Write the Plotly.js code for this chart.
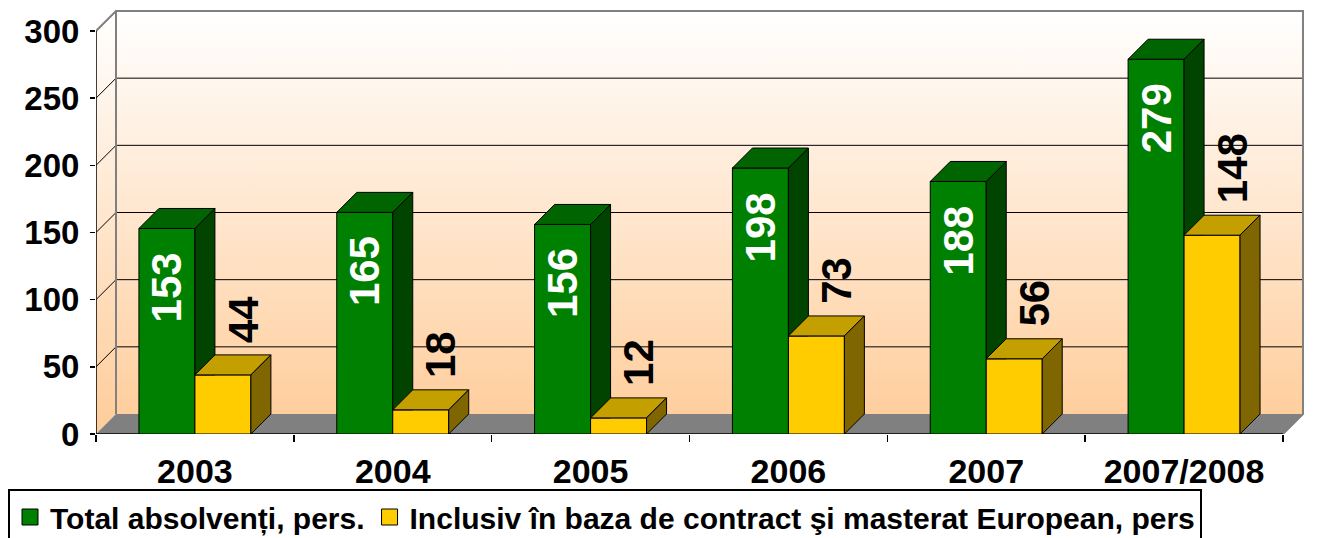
<!DOCTYPE html>
<html>
<head>
<meta charset="utf-8">
<script src="https://cdn.plot.ly/plotly-3.0.1.min.js"></script>
<style>html,body{margin:0;padding:0;background:#fff;}#chart{width:1318px;height:538px;}</style>
</head>
<body>
<div id="chart"></div>
<script>
// ---- data ----
const categories = ['2003', '2004', '2005', '2006', '2007', '2007/2008'];
const totalAbsolventi = [153, 165, 156, 198, 188, 279];
const contractMasterat = [44, 18, 12, 73, 56, 148];
const seriesNames = ['Total absolvenți, pers.', 'Inclusiv în baza de contract şi masterat European, pers'];
const yTickValues = [0, 50, 100, 150, 200, 250, 300];

// ---- geometry / style ----
const FIG_W = 1318, FIG_H = 538;
const L = 96, RIGHT = 1306, TOP = 9, BOTTOM = 434;
const PX_PER_CAT = 197.83, PX_PER_UNIT = 1.3433, DEPTH_PX = 20;
const dxu = DEPTH_PX / PX_PER_CAT, dyu = DEPTH_PX / PX_PER_UNIT;
const xr = [-0.5, -0.5 + (RIGHT - L) / PX_PER_CAT];
const yr = [0, (BOTTOM - TOP) / PX_PER_UNIT];
const BAR_W = 0.283;
const yMax = yTickValues[yTickValues.length - 1];
const nCat = categories.length;
const xLeft = -0.5, xRight = nCat - 0.5;
const FONT = 'Liberation Sans, Arial, Helvetica, sans-serif';

const GREEN = '#008000', GREEN_TOP = '#006400', GREEN_SIDE = '#004400';
const YELLOW = '#FFCC00', YELLOW_TOP = '#C49F00', YELLOW_SIDE = '#806600';
const PEACH = '#FFCC99';

function polys(list) {
  const x = [], y = [];
  list.forEach((p, k) => {
    if (k) { x.push(null); y.push(null); }
    p.forEach(pt => { x.push(pt[0]); y.push(pt[1]); });
    x.push(p[0][0]); y.push(p[0][1]);
  });
  return {x, y};
}

const idx = categories.map((_, i) => i);
const traces = [];

// ---- walls & floor (subplot 1) ----
const grad = {type: 'vertical', start: 0, stop: yMax + dyu, colorscale: [[0, PEACH], [1, '#FFFFFF']]};
const backWall = polys([[[xLeft + dxu, dyu], [xRight + dxu, dyu], [xRight + dxu, yMax + dyu], [xLeft + dxu, yMax + dyu]]]);
traces.push({type: 'scatter', mode: 'none', x: backWall.x, y: backWall.y, fill: 'toself', fillgradient: grad,
  xaxis: 'x', yaxis: 'y', showlegend: false, hoverinfo: 'skip'});
const sideWall = polys([[[xLeft, 0], [xLeft + dxu, dyu], [xLeft + dxu, yMax + dyu], [xLeft, yMax]]]);
traces.push({type: 'scatter', mode: 'none', x: sideWall.x, y: sideWall.y, fill: 'toself', fillgradient: grad,
  xaxis: 'x', yaxis: 'y', showlegend: false, hoverinfo: 'skip'});
const floor = polys([[[xLeft, 0], [xRight, 0], [xRight + dxu, dyu], [xLeft + dxu, dyu]]]);
traces.push({type: 'scatter', mode: 'none', x: floor.x, y: floor.y, fill: 'toself', fillcolor: '#808080',
  xaxis: 'x', yaxis: 'y', showlegend: false, hoverinfo: 'skip'});

// gridlines on side + back wall
const gx = [], gy = [];
yTickValues.filter(v => v > 0 && v < yMax).forEach(v => {
  gx.push(xLeft, xLeft + dxu, xRight + dxu, null);
  gy.push(v, v + dyu, v + dyu, null);
});
traces.push({type: 'scatter', mode: 'lines', x: gx, y: gy, line: {color: '#000', width: 1},
  xaxis: 'x', yaxis: 'y', showlegend: false, hoverinfo: 'skip'});
// gray borders of the walls
traces.push({type: 'scatter', mode: 'lines',
  x: [xLeft, xLeft + dxu, xRight + dxu, xRight + dxu, xRight, null, xLeft + dxu, xLeft + dxu],
  y: [yMax, yMax + dyu, yMax + dyu, dyu, 0, null, dyu, yMax + dyu],
  line: {color: '#808080', width: 2}, xaxis: 'x', yaxis: 'y', showlegend: false, hoverinfo: 'skip'});
// front axis lines
traces.push({type: 'scatter', mode: 'lines', x: [xLeft, xLeft, xRight], y: [yMax, 0, 0],
  line: {color: '#000', width: 1.5}, xaxis: 'x', yaxis: 'y', showlegend: false, hoverinfo: 'skip'});

// ---- bars (subplot 2) ----
traces.push({type: 'bar', name: seriesNames[0], x: idx, y: totalAbsolventi, width: BAR_W, offset: -BAR_W,
  marker: {color: GREEN, line: {color: '#000', width: 1}}, xaxis: 'x2', yaxis: 'y2', hoverinfo: 'skip',
  showlegend: false, legendgroup: 'g'});
traces.push({type: 'bar', name: seriesNames[1], x: idx, y: contractMasterat, width: BAR_W, offset: 0,
  marker: {color: YELLOW, line: {color: '#000', width: 1}}, xaxis: 'x2', yaxis: 'y2', hoverinfo: 'skip',
  showlegend: false, legendgroup: 'y'});

// 3D faces
const gSide = polys(idx.map(i => {
  const x1 = i, vg = totalAbsolventi[i], vy = contractMasterat[i];
  return [[x1, vy], [x1, vg], [x1 + dxu, vg + dyu], [x1 + dxu, vy]];
}));
const gTop = polys(idx.map(i => {
  const x0 = i - BAR_W, x1 = i, v = totalAbsolventi[i];
  return [[x0, v], [x1, v], [x1 + dxu, v + dyu], [x0 + dxu, v + dyu]];
}));
const yTop = polys(idx.map(i => {
  const x0 = i, x1 = i + BAR_W, v = contractMasterat[i];
  return [[x0, v], [x1, v], [x1 + dxu, v + dyu], [x0 + dxu, v + dyu]];
}));
const ySide = polys(idx.map(i => {
  const x1 = i + BAR_W, v = contractMasterat[i];
  return [[x1, 0], [x1, v], [x1 + dxu, v + dyu], [x1 + dxu, dyu]];
}));
[[gSide, GREEN_SIDE], [gTop, GREEN_TOP], [yTop, YELLOW_TOP], [ySide, YELLOW_SIDE]].forEach(([p, c]) => {
  traces.push({type: 'scatter', mode: 'lines', x: p.x, y: p.y, fill: 'toself', fillcolor: c,
    line: {color: '#000', width: 1}, xaxis: 'x2', yaxis: 'y2', showlegend: false, hoverinfo: 'skip'});
});

// legend entries (square swatches for each series)
[[seriesNames[0], GREEN, 'g'], [seriesNames[1], YELLOW, 'y']].forEach(([n, c, g]) => {
  traces.push({type: 'scatter', mode: 'markers', name: n, x: [null], y: [null], legendgroup: g,
    marker: {symbol: 'square', size: 19, color: c, line: {color: '#000', width: 1}},
    xaxis: 'x2', yaxis: 'y2', hoverinfo: 'skip', showlegend: true});
});

// ---- labels ----
const annotations = [];
idx.forEach(i => {
  annotations.push({x: i - BAR_W / 2, y: totalAbsolventi[i], xref: 'x2', yref: 'y2',
    text: String(totalAbsolventi[i]), textangle: -90, xanchor: 'center', yanchor: 'top', yshift: -22,
    showarrow: false, font: {family: FONT, size: 42, color: '#FFFFFF', weight: 'bold'}});
  annotations.push({x: i + BAR_W / 2 + dxu, y: contractMasterat[i] + dyu, xref: 'x2', yref: 'y2',
    text: String(contractMasterat[i]), textangle: -90, xanchor: 'center', yanchor: 'bottom', yshift: 10,
    showarrow: false, font: {family: FONT, size: 42, color: '#000000', weight: 'bold'}});
});

const boundaries = Array.from({length: nCat + 1}, (_, k) => k - 0.5);

const layout = {
  width: FIG_W, height: FIG_H,
  margin: {l: L, r: FIG_W - RIGHT, t: TOP, b: FIG_H - BOTTOM, pad: 0},
  paper_bgcolor: '#FFFFFF', plot_bgcolor: 'rgba(0,0,0,0)',
  font: {family: FONT, color: '#000'},
  showlegend: true,
  xaxis: {range: xr, showgrid: false, zeroline: false, showline: false, tickmode: 'array', tickvals: boundaries,
    ticks: 'outside', ticklen: 7, tickwidth: 1.5, tickcolor: '#000', showticklabels: false, fixedrange: true},
  yaxis: {range: yr, showgrid: false, zeroline: false, showline: false, tickmode: 'array', tickvals: yTickValues,
    ticktext: yTickValues.map(String), ticks: 'outside', ticklen: 5, tickwidth: 1.5, tickcolor: '#000',
    ticklabelstandoff: 4, tickfont: {family: FONT, size: 33, color: '#000', weight: 'bold'}, fixedrange: true},
  xaxis2: {overlaying: 'x', range: xr, showgrid: false, zeroline: false, showline: false, tickmode: 'array',
    tickvals: idx, ticktext: categories, ticks: '', ticklabelstandoff: 14,
    tickfont: {family: FONT, size: 34, color: '#000', weight: 'bold'}, fixedrange: true},
  yaxis2: {overlaying: 'y', range: yr, visible: false, fixedrange: true},
  barmode: 'overlay',
  legend: {orientation: 'h', xref: 'container', yref: 'container', x: 8 / FIG_W, y: 1 - 489 / FIG_H,
    xanchor: 'left', yanchor: 'top', bgcolor: '#FFFFFF', bordercolor: '#000', borderwidth: 2,
    tracegroupgap: 0,
    font: {family: FONT, size: 30, color: '#000', weight: 'bold'}, traceorder: 'normal'},
  annotations: annotations
};

Plotly.newPlot('chart', traces, layout, {displayModeBar: false, staticPlot: true});
</script>
</body>
</html>
